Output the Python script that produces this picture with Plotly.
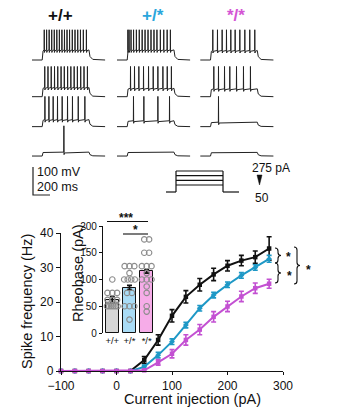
import plotly.graph_objects as go

# ---------------- data ----------------
currents = [-100, -75, -50, -25, 0, 25, 50, 75, 100, 125, 150, 175, 200, 225, 250, 275]
freq_wt = [0, 0, 0, 0, 0, 0, 3.2, 9.0, 16.0, 21.5, 25.0, 28.0, 30.5, 32.0, 33.0, 35.5]
err_wt = [0, 0, 0, 0, 0, 0, 1.0, 1.5, 1.8, 1.8, 1.8, 1.8, 1.5, 1.5, 1.8, 3.4]
freq_het = [0, 0, 0, 0, 0, 0, 1.2, 4.6, 8.5, 13.3, 18.2, 22.0, 25.0, 27.7, 30.0, 32.5]
err_het = [0, 0, 0, 0, 0, 0, 0.5, 0.8, 0.8, 0.8, 0.8, 0.8, 0.8, 0.8, 0.8, 1.0]
freq_hom = [0, 0, 0, 0, 0, 0, 0.2, 2.5, 5.0, 9.0, 12.0, 15.7, 18.7, 21.6, 24.0, 25.3]
err_hom = [0, 0, 0, 0, 0, 0, 0.3, 0.8, 1.2, 1.5, 1.5, 1.5, 1.5, 1.5, 1.5, 1.3]

genotypes = ["+/+", "+/*", "*/*"]
rheo_mean = [62, 85, 115]
rheo_sem = [6, 4, 3]
rheo_wt = [100, 75, 75, 75, 62, 62, 62, 50, 50, 50, 50, 50, 50]
rheo_het = [125, 125, 125, 112, 100, 100, 100, 100, 75, 75, 50, 50, 50, 25]
rheo_hom = [175, 175, 150, 150, 125, 125, 125, 112, 100, 100, 100, 87, 75, 50, 40]

# example traces: spike times (ms after step onset) and step depolarisation (mV)
spikes = {
    (0, 0): [24, 52, 82, 112, 142, 172, 202, 232, 262, 292, 322, 354, 386, 418, 450, 484, 520],
    (0, 1): [30, 68, 106, 145, 183, 222, 260, 299, 337, 376, 414, 453, 492, 532],
    (0, 2): [32, 79, 129, 180, 235, 298, 356, 424, 502],
    (0, 3): [255],
    (1, 0): [8, 22, 45, 75, 108, 142, 176, 210, 245, 280, 315, 350, 390, 430, 470, 508],
    (1, 1): [39, 86, 137, 192, 251, 306, 361, 420, 471, 520],
    (1, 2): [74, 196, 361, 498],
    (1, 3): [],
    (2, 0): [27, 82, 137, 188, 239, 290, 345, 404, 462, 521],
    (2, 1): [39, 94, 165, 227, 306, 388, 470],
    (2, 2): [94],
    (2, 3): [],
}
plateau = {
    (0, 0): 36, (0, 1): 33, (0, 2): 25, (0, 3): 14,
    (1, 0): 36, (1, 1): 30, (1, 2): 21, (1, 3): 14,
    (2, 0): 34, (2, 1): 28, (2, 2): 16, (2, 3): 13,
}
REST = -70
SPIKE_AMP = 108
PRE, STEP, POST = 120, 550, 190
step_levels = [50, 125, 200, 275]

# ---------------- layout constants ----------------
W, H = 340, 408
def fx(p): return p / W
def fy(p): return 1 - p / H

MS_PX = 0.085   # px per ms
MV_PX = 0.28    # px per mV
ORIG_X, ORIG_Y = 32, 60
col_off = [0, 1000, 1980]
row_off = [0, -131, -238, -343]
geno_col = ["#111111", "#2aa6dc", "#d455d4"]
line_col = ["#111111", "#1e98c6", "#c350d2"]
bar_col = ["#d6d6d6", "#a9dcf6", "#f6ace8"]
FONT = "Liberation Sans, Arial, sans-serif"

fig = go.Figure()

# ---------------- traces (x3/y3 in ms / mV) ----------------
tx_all, vy_all = [], []
for (c, r), sp in spikes.items():
    pl = plateau[(c, r)]
    t = [0, PRE, PRE + 10]
    v = [REST, REST, REST + pl * 0.9]
    for s in sp:
        a = PRE + s
        t += [a - 1.5, a, a + 2, a + 7]
        v += [REST + pl, REST + SPIKE_AMP, REST + pl - 9, REST + pl - 3]
    t += [PRE + STEP, PRE + STEP + 12, PRE + STEP + 45, PRE + STEP + POST]
    v += [REST + pl, REST + pl * 0.35, REST + pl * 0.06, REST]
    tx_all += [ti + col_off[c] for ti in t] + [None]
    vy_all += [vi + row_off[r] for vi in v] + [None]
fig.add_trace(go.Scatter(x=tx_all, y=vy_all, mode="lines", xaxis="x3", yaxis="y3",
                         line=dict(color="#222222", width=1), hoverinfo="skip"))

# scale bar (100 mV, 200 ms)
SB_T0 = (33 - ORIG_X) / MS_PX
SB_V0 = REST - (195 - ORIG_Y) / MV_PX
fig.add_trace(go.Scatter(x=[SB_T0, SB_T0, SB_T0 + 200], y=[SB_V0 + 100, SB_V0, SB_V0],
                         mode="lines", xaxis="x3", yaxis="y3",
                         line=dict(color="#222222", width=1.2), hoverinfo="skip"))

# ---------------- main F-I plot ----------------
for y, e, col, sym in [(freq_wt, err_wt, line_col[0], "square"),
                       (freq_het, err_het, line_col[1], "diamond"),
                       (freq_hom, err_hom, line_col[2], "square")]:
    fig.add_trace(go.Scatter(
        x=currents, y=y, mode="lines+markers", xaxis="x", yaxis="y",
        line=dict(color=col, width=2), marker=dict(color=col, size=4.5, symbol=sym),
        error_y=dict(type="data", array=e, color=col, thickness=1.6, width=2.5),
        cliponaxis=False, hoverinfo="skip"))

# ---------------- inset bar chart ----------------
fig.add_trace(go.Bar(
    x=[0, 1, 2], y=rheo_mean, xaxis="x2", yaxis="y2", width=0.78,
    marker=dict(color=bar_col, line=dict(color="#111111", width=1)),
    error_y=dict(type="data", array=rheo_sem, color="#111111", thickness=1.8, width=2.5),
    hoverinfo="skip"))

for i, vals in enumerate([rheo_wt, rheo_het, rheo_hom]):
    xs, ys = [], []
    counts = {}
    for v in vals:
        counts[v] = counts.get(v, 0) + 1
    for v, k in counts.items():
        sp = 0.28 if k < 2 else min(0.28, 0.62 / (k - 1))
        for j in range(k):
            xs.append(i + (j - (k - 1) / 2) * sp)
            ys.append(v)
    fig.add_trace(go.Scatter(x=xs, y=ys, mode="markers", xaxis="x2", yaxis="y2",
                             marker=dict(symbol="circle-open", size=5.5, color="#8c8c8c",
                                         line=dict(width=1.1)),
                             cliponaxis=False, hoverinfo="skip"))

# ---------------- shapes (decorations in px axis x4/y4) ----------------
shapes = []
def seg(x0, y0, x1, y1, w=1.1, col="#111111"):
    shapes.append(dict(type="line", xref="x4", yref="y4", x0=x0, y0=y0, x1=x1, y1=y1,
                       line=dict(color=col, width=w)))

# significance lines in inset
seg(107, 221.5, 148, 221.5)
seg(123, 234, 148, 234)

# braces
def brace(x, y0, y1, w=3):
    m = (y0 + y1) / 2
    p = (f"M {x-w},{y0} Q {x},{y0} {x},{y0+w} L {x},{m-w} Q {x},{m} {x+w},{m} "
         f"Q {x},{m} {x},{m+w} L {x},{y1-w} Q {x},{y1} {x-w},{y1}")
    shapes.append(dict(type="path", xref="x4", yref="y4", path=p,
                       line=dict(color="#111111", width=1.1)))
brace(278, 248, 263)
brace(278, 263, 283)
brace(297, 247, 284)

# current-step protocol
def lvl(I):
    return 185 - (I - 50) / 225 * 14
seg(166, 192, 176, 192, 1.2)
seg(223, 192, 239, 192, 1.2)
seg(176, 192, 176, lvl(max(step_levels)), 1.2)
seg(223, 192, 223, lvl(max(step_levels)), 1.2)
for I in step_levels:
    seg(176, lvl(I), 223, lvl(I), 1.2)
shapes.append(dict(type="path", xref="x4", yref="y4",
                   path="M 257,175 L 262,175 L 259.5,185 Z",
                   fillcolor="#111111", line=dict(color="#111111", width=0.5)))

# ---------------- annotations ----------------
ann = []
def txt(s, x, y, size, color="#111111", bold=False, angle=0, xanchor="center"):
    ann.append(dict(text=f"<b>{s}</b>" if bold else s, x=fx(x), y=fy(y), xref="paper",
                    yref="paper", showarrow=False, textangle=angle, xanchor=xanchor,
                    yanchor="middle", font=dict(family=FONT, size=size, color=color)))

for i, g in enumerate(genotypes):
    txt(g, [60, 153, 236][i], 16, 17, geno_col[i], bold=True)
txt("100 mV", 35, 172, 12.5, xanchor="left")
txt("200 ms", 35, 187, 12.5, xanchor="left")
txt("275 pA", 271, 168, 12)
txt("50", 262, 198, 12)
txt("Spike frequency (Hz)", 27, 302, 14.5, angle=-90)
txt("Current injection (pA)", 192, 399, 14.5)
txt("Rheobase (pA)", 78, 273, 14.5, angle=-90)
txt("***", 126, 218, 12, bold=True)
txt("*", 135, 230, 12, bold=True)
txt("*", 288, 257, 12, bold=True)
txt("*", 289, 276, 12, bold=True)
txt("*", 308, 270, 12, bold=True)

axis_common = dict(showgrid=False, zeroline=False, showline=True, linecolor="#111111",
                   linewidth=1.3, ticks="outside", tickcolor="#111111", tickwidth=1.3,
                   tickfont=dict(family=FONT, size=12, color="#111111"))

fig.update_layout(
    width=W, height=H, margin=dict(l=0, r=0, t=0, b=0, autoexpand=False),
    paper_bgcolor="white", plot_bgcolor="rgba(0,0,0,0)", showlegend=False,
    xaxis=dict(domain=[fx(61), fx(283)], range=[-100, 300], tickvals=[-100, 0, 100, 200, 300],
               ticklen=3, anchor="y", **axis_common),
    yaxis=dict(domain=[fy(371), fy(233)], range=[0, 40], tickvals=[0, 10, 20, 30, 40],
               ticklen=4, anchor="x", **axis_common),
    xaxis2=dict(domain=[fx(103), fx(157)], range=[-0.54, 2.6], anchor="y2",
                tickvals=[0, 1, 2], ticktext=genotypes, showline=False, showgrid=False,
                zeroline=False, ticks="", tickfont=dict(family=FONT, size=9.5, color="#111111")),
    yaxis2=dict(domain=[fy(333), fy(226)], range=[0, 200], anchor="x2",
                tickvals=[0, 50, 100, 150, 200], showgrid=False, zeroline=False, showline=True,
                linecolor="#111111", linewidth=1.2, ticks="outside", ticklen=3,
                tickcolor="#111111", tickwidth=1.2,
                tickfont=dict(family=FONT, size=10, color="#111111")),
    xaxis3=dict(domain=[0, 1], range=[-ORIG_X / MS_PX, (W - ORIG_X) / MS_PX], visible=False,
                anchor="y3"),
    yaxis3=dict(domain=[0, 1], range=[REST - (H - ORIG_Y) / MV_PX, REST + ORIG_Y / MV_PX],
                visible=False, anchor="x3"),
    xaxis4=dict(domain=[0, 1], range=[0, W], visible=False, anchor="y4"),
    yaxis4=dict(domain=[0, 1], range=[H, 0], visible=False, anchor="x4"),
    shapes=shapes, annotations=ann, bargap=0,
)

fig.write_html("out.html")
